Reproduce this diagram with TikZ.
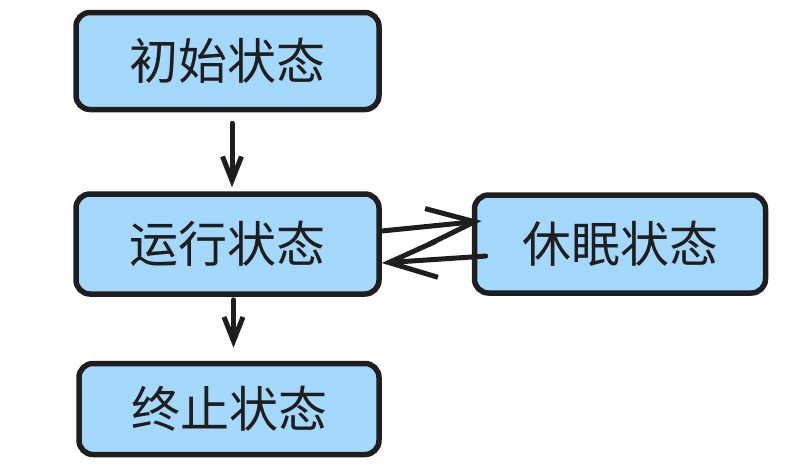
\documentclass[tikz,border=0pt]{standalone}
\usepackage{fontspec}
\usepackage{tikz}
\usepackage{xcolor}
\usetikzlibrary{arrows.meta,positioning}
\newfontfamily\cjk{Noto Sans CJK SC}
\definecolor{stBlue}{HTML}{A5D8FF}
\definecolor{stInk}{HTML}{1E1E1E}
\tikzset{
  stateBox/.style={draw=stInk, fill=stBlue, line width=5.5pt, rounded corners=14pt, align=center,
    minimum width=303pt, minimum height=97pt, inner sep=0pt, text=stInk, font=\cjk\fontsize{49}{55}\selectfont},
  stateArrow/.style={-{Straight Barb[length=24pt, width=19pt, line width=5pt]}, line width=5pt, draw=stInk, line cap=round},
  longHead/.style={-{Straight Barb[length=48pt, width=36pt, line width=5pt]}}
}
\begin{document}
\begin{tikzpicture}[x=1pt, y=-1pt]
  \useasboundingbox (0,0) rectangle (803,474);
  \node[stateBox] (init) at (227.5,61) {初始状态};
  \node[stateBox, minimum height=100pt, below=79pt of init] (run) {运行状态};
  \node[stateBox, minimum width=291pt, minimum height=98pt, right=90pt of run] (sleep) {休眠状态};
  \node[stateBox, minimum width=300pt, minimum height=91pt, below=64pt of run, xshift=1.5pt] (term) {终止状态};

  \draw[stateArrow, shorten <=11pt, shorten >=4pt] ([xshift=4.5pt]init.south) -- ([xshift=4.5pt]run.north);
  \draw[stateArrow, longHead, shorten <=0pt, shorten >=-10pt] ([yshift=13pt]run.east) -- ([yshift=22pt]sleep.west);
  \draw[stateArrow, longHead, shorten <=-14pt, shorten >=0pt] ([yshift=-13pt]sleep.west) -- ([yshift=-19pt]run.east);
  \draw[stateArrow, shorten <=3pt, shorten >=13pt] ([xshift=6pt]run.south) -- ([xshift=4.5pt]term.north);
\end{tikzpicture}
\end{document}
